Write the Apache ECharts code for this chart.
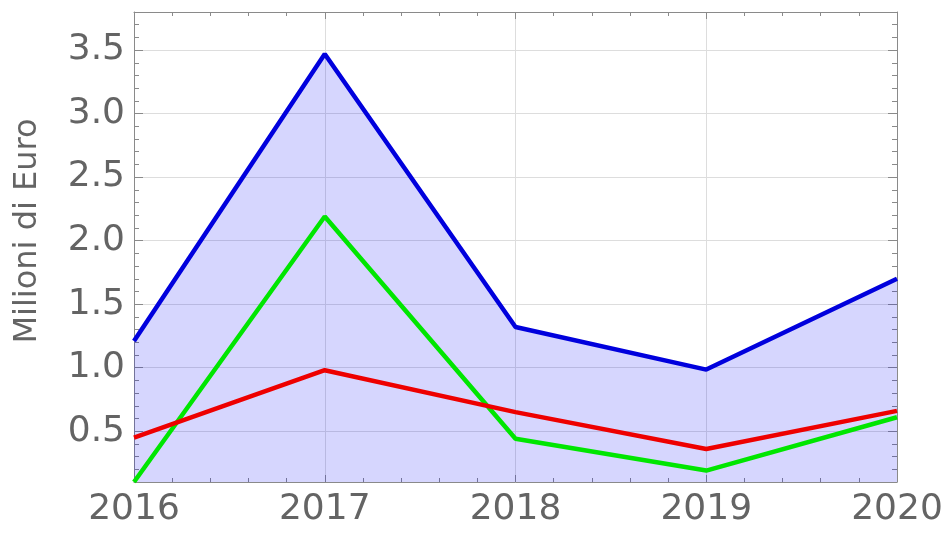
<!DOCTYPE html>
<html>
<head>
<meta charset="utf-8">
<script src="https://cdn.jsdelivr.net/npm/echarts@6/dist/echarts.min.js"></script>
<style>
html,body{margin:0;padding:0;background:#fff;}
#chart{width:946px;height:533px;}
</style>
</head>
<body>
<div id="chart"></div>
<script>
var years = [2016, 2017, 2018, 2019, 2020];
var blueValues = [1.21, 3.47, 1.32, 0.985, 1.70];
var greenValues = [0.10, 2.19, 0.44, 0.19, 0.61];
var redValues = [0.45, 0.98, 0.65, 0.36, 0.66];
var yTitle = 'Milioni di Euro';

function pairs(vals) {
  return years.map(function (y, i) { return [y, vals[i]]; });
}

var FONT = '"DejaVu Sans", Verdana, sans-serif';
var TXT = '#646464';
var FRAME = '#8a8a8a';

var chart = echarts.init(document.getElementById('chart'), null, {renderer: 'canvas'});

var xBase = {
  type: 'value', min: 2016, max: 2020, interval: 1,
  axisLine: {show: true, onZero: false, lineStyle: {color: FRAME, width: 1}},
  axisTick: {show: true, inside: true, length: 7, lineStyle: {color: FRAME}},
  minorTick: {show: true, splitNumber: 5, length: 4, lineStyle: {color: FRAME}},
  splitLine: {show: false}
};

var option = {
  animation: false,
  backgroundColor: '#ffffff',
  grid: {left: 134, right: 49, top: 12, bottom: 51, containLabel: false},
  xAxis: [
    Object.assign({}, xBase, {
      position: 'bottom',
      axisLabel: {show: true, margin: 10, fontSize: 36, fontFamily: FONT, color: TXT,
        formatter: function (v) { return String(v); }},
      splitLine: {show: true, lineStyle: {color: '#dddddd', width: 1}}
    }),
    Object.assign({}, xBase, {
      position: 'top',
      axisLabel: {show: false}
    })
  ],
  yAxis: [
    {
      type: 'value', min: 0.1, max: 3.8, splitNumber: 7, position: 'left',
      axisLine: {show: true, onZero: false, lineStyle: {color: FRAME, width: 1}},
      axisTick: {show: true, inside: true, length: 9, lineStyle: {color: FRAME}},
      axisLabel: {show: true, margin: 9, fontSize: 36, fontFamily: FONT, color: TXT,
        showMinLabel: false, showMaxLabel: false,
        formatter: function (v) { return v.toFixed(1); }},
      splitLine: {show: true, lineStyle: {color: '#dddddd', width: 1}}
    },
    {
      type: 'value', min: 0.1, max: 3.8, interval: 0.1, position: 'left',
      axisLine: {show: false},
      axisTick: {show: true, inside: true, length: 5, lineStyle: {color: FRAME}},
      axisLabel: {show: false},
      splitLine: {show: false}
    },
    {
      type: 'value', min: 0.1, max: 3.8, splitNumber: 7, position: 'right',
      axisLine: {show: true, onZero: false, lineStyle: {color: FRAME, width: 1}},
      axisTick: {show: true, inside: true, length: 9, lineStyle: {color: FRAME}},
      axisLabel: {show: false},
      splitLine: {show: false}
    },
    {
      type: 'value', min: 0.1, max: 3.8, interval: 0.1, position: 'right',
      axisLine: {show: false},
      axisTick: {show: true, inside: true, length: 5, lineStyle: {color: FRAME}},
      axisLabel: {show: false},
      splitLine: {show: false}
    }
  ],
  graphic: [
    {
      type: 'text', x: 28, y: 231, rotation: Math.PI / 2,
      style: {text: yTitle, fontSize: 32, fontFamily: FONT, fill: TXT,
        align: 'center', verticalAlign: 'middle'}
    }
  ],
  series: [
    {
      type: 'line', xAxisIndex: 0, yAxisIndex: 0, data: pairs(blueValues),
      showSymbol: false, symbol: 'none',
      lineStyle: {color: '#0000dd', width: 4.5},
      areaStyle: {color: 'rgba(0,0,250,0.23)', origin: 'start'},
      z: 2
    },
    {
      type: 'line', xAxisIndex: 0, yAxisIndex: 0, data: pairs(greenValues),
      showSymbol: false, symbol: 'none',
      lineStyle: {color: '#00e600', width: 4.5},
      z: 3
    },
    {
      type: 'line', xAxisIndex: 0, yAxisIndex: 0, data: pairs(redValues),
      showSymbol: false, symbol: 'none',
      lineStyle: {color: '#ee0000', width: 4.5},
      z: 4
    }
  ]
};
chart.setOption(option);
</script>
</body>
</html>
